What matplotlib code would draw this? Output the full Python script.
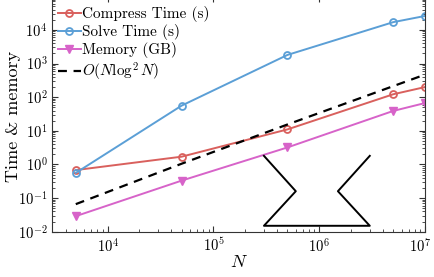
import matplotlib
matplotlib.use("Agg")
import matplotlib.pyplot as plt
import matplotlib.transforms as mtransforms
import numpy as np

plt.rcParams['font.family'] = 'serif'
plt.rcParams['font.serif'] = ['cmr10']
plt.rcParams['mathtext.fontset'] = 'cm'
plt.rcParams['axes.formatter.use_mathtext'] = True

N = [5e3, 5e4, 5e5, 5e6, 1e7]
compress = [0.68, 1.7, 11, 122, 200]
solve = [0.56, 56, 1800, 17000, 26000]
memory = [0.029, 0.33, 3.2, 39, 67]
ref = [0.066, 1.05, 15.4, 213, 470]

# hourglass sketch
shape_x = [3e5, 6e5, 3e5, 3e6, 1.5e6, 3e6]
shape_y = [1.8, 0.16, 0.015, 0.015, 0.16, 1.8]

xticks = [1e4, 1e5, 1e6, 1e7]
xticklabels = [r'$10^4$', r'$10^5$', r'$10^6$', r'$10^7$']

red = '#d9605d'
blue = '#5b9fd6'
pink = '#d763c9'

fig = plt.figure(figsize=(4.34, 2.77), dpi=100)
ax = fig.add_axes([0.1205, 0.1635, 0.859, 0.85])

ax.plot(N, compress, '-o', color=red, lw=1.4, ms=5, mfc='none', mew=1.3,
        label='Compress Time (s)')
ax.plot(N, solve, '-o', color=blue, lw=1.4, ms=5, mfc='none', mew=1.3,
        label='Solve Time (s)')
ax.plot(N, memory, '-v', color=pink, lw=1.4, ms=5.5, mew=1.0,
        label='Memory (GB)')
ax.plot(N, ref, '--', color='black', lw=1.6, dashes=(4, 3),
        label=r'$O(N\log^2N)$')
ax.plot(shape_x, shape_y, '-', color='black', lw=1.4)

ax.set_xscale('log')
ax.set_yscale('log')
ax.set_xlim(3e3, 1e7)
ax.set_ylim(1e-2, 1e5)
ax.set_yticks([1e-2, 1e-1, 1e0, 1e1, 1e2, 1e3, 1e4])
ax.set_xticks(xticks, labels=xticklabels)

ax.tick_params(which='both', direction='in', top=True, right=True,
               labelsize=10.5, color='#333333')
ax.tick_params(which='major', length=4)
ax.tick_params(which='minor', length=2)
for s in ax.spines.values():
    s.set_color('#333333')
    s.set_linewidth(0.8)

# nudge the last x tick label inside the figure
last = ax.get_xticklabels()[-1]
last.set_transform(last.get_transform() +
                   mtransforms.ScaledTranslation(-0.05, 0, fig.dpi_scale_trans))

ax.set_xlabel(r'$N$', fontsize=13, labelpad=0)
ax.set_ylabel('Time & memory', fontsize=13)
ax.yaxis.set_label_coords(-0.085, 0.49)

ax.legend(loc='upper left', bbox_to_anchor=(0.007, 0.972), frameon=False,
          fontsize=11, handlelength=1.5, handletextpad=0.1,
          labelspacing=0.15, borderaxespad=0, borderpad=0.2)

fig.savefig('out.png', dpi=100)
